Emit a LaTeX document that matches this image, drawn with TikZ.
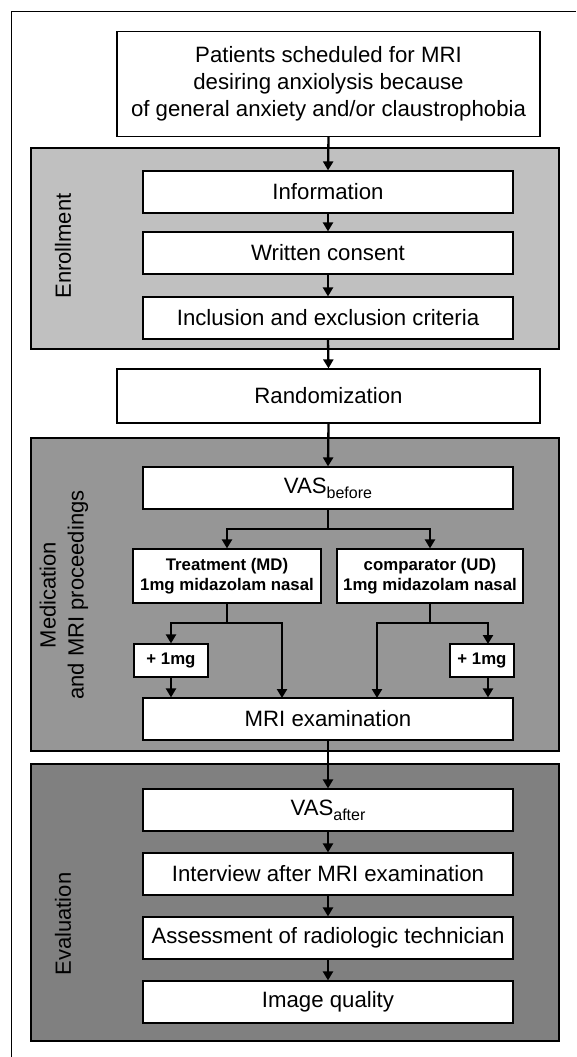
\documentclass[tikz,border=0pt]{standalone}
\usepackage{fontspec}
\setmainfont{Liberation Sans}
\usetikzlibrary{arrows.meta}
\tikzset{
  box/.style={draw, fill=white, line width=1.2pt, inner sep=0pt, align=center,
    font=\fontsize{22.2}{27}\selectfont},
  bbox/.style={box, font=\fontsize{16.8}{20.5}\selectfont\bfseries},
  panel/.style={draw, line width=1.4pt},
  lbl/.style={rotate=90, align=center, font=\fontsize{22}{28}\selectfont},
  arr/.style={line width=2.3pt, -{Triangle[width=10pt,length=9pt]}},
  ln/.style={line width=2.3pt},
}
\newcommand{\subtext}[1]{\raisebox{-5pt}{\fontsize{16}{16}\selectfont #1}}
\begin{document}
\begin{tikzpicture}[x=1pt,y=-1pt]
\useasboundingbox (0,0) rectangle (576,1057);
% outer frame (open)
\draw[line width=1pt] (576,12) -- (11,12) -- (11,1057);
% panels
\filldraw[panel, fill={rgb,255:red,192;green,192;blue,192}] (31,148) rectangle (559,349);
\filldraw[panel, fill={rgb,255:red,150;green,150;blue,150}] (31,438) rectangle (559,751);
\filldraw[panel, fill={rgb,255:red,128;green,128;blue,128}] (31,764) rectangle (559,1041);
\node[lbl] (lenr) at (63,246) {Enrollment};
\node[lbl] (lmed) at (64,595) {Medication\\and MRI proceedings};
\node[lbl] (leva) at (63,924) {Evaluation};
% nodes
\node[box, minimum width=423pt, minimum height=105pt] (pat) at (328.5,84)
  {Patients scheduled for MRI\\desiring anxiolysis because\\of general anxiety and/or claustrophobia};
\node[box, minimum width=370pt, minimum height=42pt] (info) at (328,192) {Information};
\node[box, minimum width=370pt, minimum height=42pt] (cons) at (328,253) {Written consent};
\node[box, minimum width=370pt, minimum height=42pt] (incl) at (328,318) {Inclusion and exclusion criteria};
\node[box, minimum width=423pt, minimum height=54pt] (rand) at (328.5,396) {Randomization};
\node[box, minimum width=370pt, minimum height=42pt] (vasb) at (328,488) {VAS\subtext{before}};
\node[bbox, minimum width=188pt, minimum height=54pt] (treat) at (227,576) {Treatment (MD)\\1mg midazolam nasal};
\node[bbox, minimum width=186pt, minimum height=54pt] (comp) at (430,576) {comparator (UD)\\1mg midazolam nasal};
\node[bbox, minimum width=74pt, minimum height=33pt] (p1L) at (171,660.5) {+ 1mg};
\node[bbox, minimum width=64pt, minimum height=33pt] (p1R) at (482,660.5) {+ 1mg};
\node[box, minimum width=370pt, minimum height=42pt] (mri) at (328,719) {MRI examination};
\node[box, minimum width=370pt, minimum height=42pt] (vasa) at (328,810) {VAS\subtext{after}};
\node[box, minimum width=370pt, minimum height=42pt] (intv) at (328,874) {Interview after MRI examination};
\node[box, minimum width=370pt, minimum height=42pt] (asse) at (328,938) {Assessment of radiologic technician};
\node[box, minimum width=370pt, minimum height=42pt] (iq) at (328,1002) {Image quality};
% connectors
\draw[arr] (pat.south) -- (info.north);
\draw[arr] (info.south) -- (cons.north);
\draw[arr] (cons.south) -- (incl.north);
\draw[arr] (incl.south) -- (rand.north);
\draw[arr] (rand.south) -- (vasb.north);
\coordinate (vb) at (328,529);
\draw[ln] (vasb.south) -- (vb);
\draw[arr] (vb) -| (treat.north);
\draw[arr] (vb) -| (comp.north);
\coordinate (tb) at (227,623);
\coordinate (tm) at (282,698);
\draw[ln] (treat.south) -- (tb);
\draw[arr] (tb) -| (p1L.north);
\draw[arr] (tb) -| (tm);
\coordinate (cb) at (430,623);
\coordinate (cm) at (377,698);
\coordinate (cp) at (488,644);
\draw[ln] (comp.south) -- (cb);
\draw[arr] (cb) -| (cm);
\draw[arr] (cb) -| (cp);
\draw[arr] (p1L.south) -- (p1L.south |- mri.north);
\draw[arr] (p1R.south -| cp) -- (cp |- mri.north);
\draw[arr] (mri.south) -- (vasa.north);
\draw[arr] (vasa.south) -- (intv.north);
\draw[arr] (intv.south) -- (asse.north);
\draw[arr] (asse.south) -- (iq.north);
\end{tikzpicture}
\end{document}
